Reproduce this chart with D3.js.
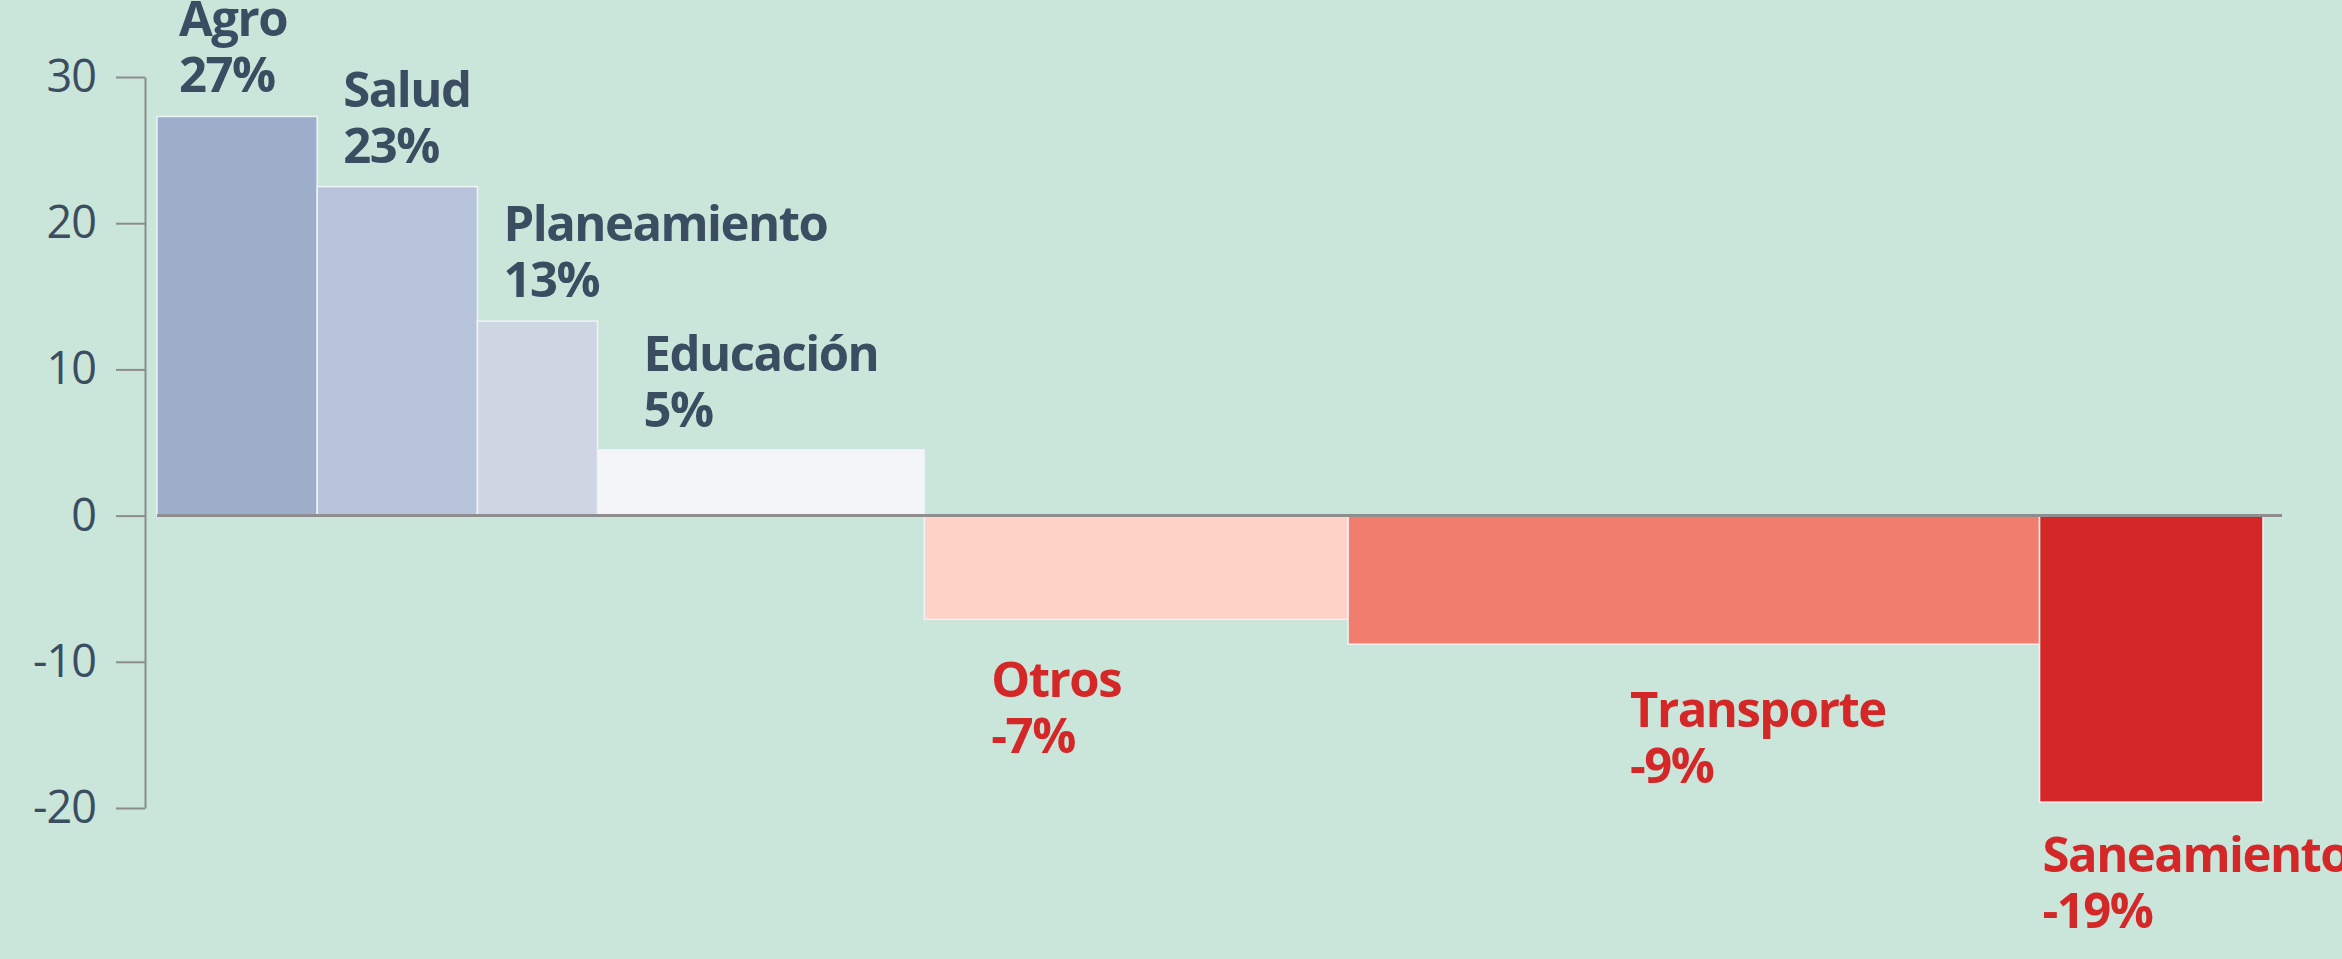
<!DOCTYPE html>
<html>
<head>
<meta charset="utf-8">
<script src="https://cdn.jsdelivr.net/npm/d3@7"></script>
<style>
  html, body { margin: 0; padding: 0; background: #cae6db; overflow: hidden; }
  svg { display: block; }
  .y-axis text { font-family: "Open Sans", sans-serif; font-weight: 500; font-size: 45px; fill: #3b4d61; letter-spacing: -1px; }
  .y-axis line, .y-axis path { stroke: #8c8c8c; stroke-width: 2; }
  .label { font-family: "Open Sans", sans-serif; font-weight: 700; font-size: 49px; letter-spacing: -1.5px; }
</style>
</head>
<body>
<div id="chart"></div>
<script>
'use strict';

// sectors, change in %, share of budget (bar width)
const sectors = ['Agro', 'Salud', 'Planeamiento', 'Educación', 'Otros', 'Transporte', 'Saneamiento'];
const changes = [27.3, 22.5, 13.3, 4.5, -7.1, -8.8, -19.6];
const shares = [7.6, 7.6, 5.7, 15.5, 20.1, 32.8, 10.6];
const shownPct = ['27%', '23%', '13%', '5%', '-7%', '-9%', '-19%'];
const yTicks = [-20, -10, 0, 10, 20, 30];

const barColors = ['#9daecb', '#b7c4dc', '#cfd6e3', '#f4f5f9', '#ffd2c8', '#f07d6e', '#d42828'];
// hand placed annotation nudges (px)
const labelDx = [22, 26, 26, 46, 67, 282, 3];
const labelDy = [-24, -24, -24, -23, 78, 83, 70];

const width = 2342;
const height = 959;
const margin = { top: 77, left: 157, right: 79, bottom: 151 };

const svg = d3.select('#chart').append('svg')
  .attr('width', width)
  .attr('height', height);

svg.append('rect')
  .attr('width', width)
  .attr('height', height)
  .attr('fill', '#cae6db');

const data = sectors.map(function (s, i) {
  return { name: s, value: changes[i], share: shares[i], pct: shownPct[i], color: barColors[i], i: i };
});

let acc = 0;
data.forEach(function (d) {
  d.x0 = acc;
  acc += d.share;
  d.x1 = acc;
});

const xScale = d3.scaleLinear()
  .domain([0, acc])
  .range([margin.left, 2263]);

const yScale = d3.scaleLinear()
  .domain([-20, 30])
  .range([808, margin.top]);

const yAxis = d3.axisLeft(yScale)
  .tickValues(yTicks)
  .tickFormat(function (d) { return String(d); })
  .tickSize(29)
  .tickSizeOuter(0)
  .tickPadding(20);

svg.append('g')
  .attr('class', 'y-axis')
  .attr('transform', 'translate(145, 0)')
  .call(yAxis);

svg.selectAll('.bar')
  .data(data)
  .enter().append('rect')
  .attr('class', 'bar')
  .attr('x', function (d) { return xScale(d.x0); })
  .attr('width', function (d) { return xScale(d.x1) - xScale(d.x0); })
  .attr('y', function (d) { return yScale(Math.max(0, d.value)); })
  .attr('height', function (d) { return Math.abs(yScale(d.value) - yScale(0)); })
  .attr('fill', function (d) { return d.color; })
  .attr('stroke', '#eef2f4')
  .attr('stroke-width', 1.5);

svg.append('line')
  .attr('x1', xScale(0))
  .attr('x2', 2282)
  .attr('y1', yScale(0))
  .attr('y2', yScale(0))
  .attr('stroke', '#8e8e8e')
  .attr('stroke-width', 3);

const labels = svg.selectAll('.label')
  .data(data)
  .enter().append('text')
  .attr('class', 'label')
  .attr('fill', function (d) { return d.value >= 0 ? '#3b4d61' : '#d42828'; })
  .attr('transform', function (d) {
    const lx = xScale(d.x0) + labelDx[d.i];
    const ly = yScale(d.value) + labelDy[d.i] + (d.value >= 0 ? -56 : 0);
    return 'translate(' + lx + ',' + ly + ')';
  });

labels.append('tspan')
  .attr('x', 0)
  .attr('y', 0)
  .text(function (d) { return d.name; });

labels.append('tspan')
  .attr('x', 0)
  .attr('y', 56)
  .text(function (d) { return d.pct; });
</script>
</body>
</html>
